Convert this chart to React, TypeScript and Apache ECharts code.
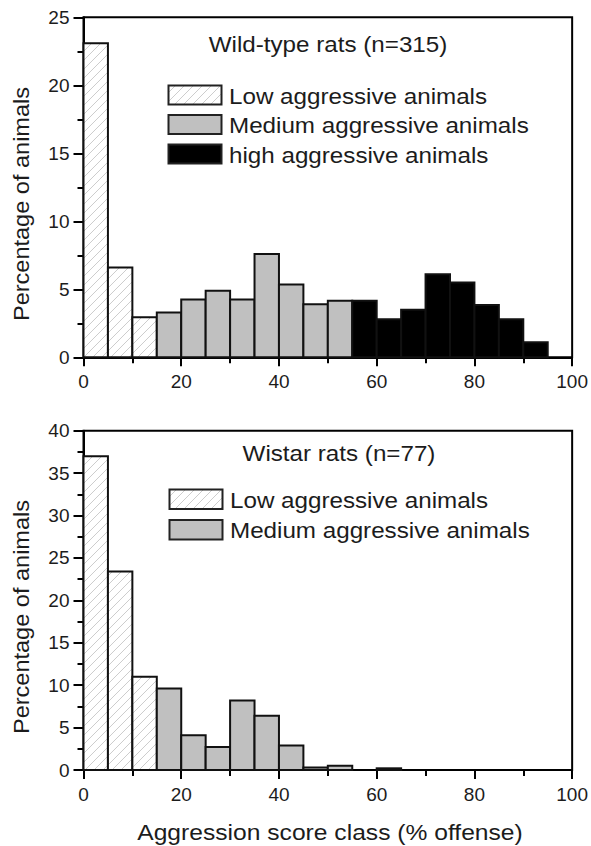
import React, { useEffect, useRef } from "react";
import * as echarts from "echarts";

// ---- data (bin width 5, % of animals) ----
const binWidth = 5;
const wildLowStart = 0;
const wildLow = [23.1, 6.6, 2.95];
const wildMediumStart = 15;
const wildMedium = [3.3, 4.25, 4.9, 4.25, 7.6, 5.35, 3.9, 4.15];
const wildHighStart = 55;
const wildHigh = [4.15, 2.8, 3.5, 6.1, 5.5, 3.85, 2.8, 1.1];

const wistarLowStart = 0;
const wistarLow = [37.0, 23.4, 11.0];
const wistarMediumStart = 15;
const wistarMedium = [9.6, 4.1, 2.7, 8.2, 6.4, 2.9, 0.3, 0.5, 0, 0.2];

const xTicks = { min: 0, max: 100, interval: 20 };
const topY = { min: 0, max: 25, interval: 5 };
const bottomY = { min: 0, max: 40, interval: 5 };

const topTitle = "Wild-type rats (n=315)";
const bottomTitle = "Wistar rats (n=77)";
const legendLow = "Low aggressive animals";
const legendMedium = "Medium aggressive animals";
const legendHigh = "high aggressive animals";
const yName = "Percentage of animals";
const xName = "Aggression score class (% offense)";

// ---- styles ----
const FONT = "'Liberation Sans', Arial, Helvetica, sans-serif";
const TEXT = "#1c1c1c";
const GRAY = "#c0c0c0";
const HATCH = "#cdcdcd";
const OUTLINE = "#111";

function toBins(start: number, vals: number[]) {
  return vals.map((v, i) => [start + i * binWidth, start + (i + 1) * binWidth, v]);
}

function hatchSegments(x: number, y: number, w: number, h: number, s: number) {
  const segs: number[][] = [];
  const x1 = x + w;
  const y1 = y + h;
  const cStart = Math.ceil((x + y) / s) * s;
  for (let c = cStart; c <= x1 + y1; c += s) {
    const lo = Math.max(y, c - x1);
    const hi = Math.min(y1, c - x);
    if (hi - lo > 0.5) segs.push([c - lo, lo, c - hi, hi]);
  }
  return segs;
}

function makeRender(kind: "hatch" | "gray" | "black") {
  return (params: any, api: any) => {
    const v = api.value(2);
    if (!(v > 0)) return null;
    const tl = api.coord([api.value(0), v]);
    const br = api.coord([api.value(1), 0]);
    const x = tl[0];
    const y = tl[1];
    const w = br[0] - tl[0];
    const h = br[1] - tl[1];
    const children: any[] = [];
    if (kind === "hatch") {
      children.push({ type: "rect", shape: { x, y, width: w, height: h }, style: { fill: "#fff" } });
      hatchSegments(x, y, w, h, 9).forEach((sg) =>
        children.push({
          type: "line",
          shape: { x1: sg[0], y1: sg[1], x2: sg[2], y2: sg[3] },
          style: { stroke: HATCH, lineWidth: 1 },
        })
      );
      children.push({
        type: "rect",
        shape: { x, y, width: w, height: h },
        style: { fill: "none", stroke: OUTLINE, lineWidth: 2 },
      });
    } else {
      children.push({
        type: "rect",
        shape: { x, y, width: w, height: h },
        style: { fill: kind === "gray" ? GRAY : "#000", stroke: OUTLINE, lineWidth: 2 },
      });
    }
    return { type: "group", children };
  };
}

function legendSwatch(kind: "hatch" | "gray" | "black", x: number, y: number, w: number, h: number) {
  const children: any[] = [];
  if (kind === "hatch") {
    children.push({ type: "rect", shape: { x, y, width: w, height: h }, style: { fill: "#fff" } });
    hatchSegments(x, y, w, h, 9).forEach((sg) =>
      children.push({
        type: "line",
        shape: { x1: sg[0], y1: sg[1], x2: sg[2], y2: sg[3] },
        style: { stroke: HATCH, lineWidth: 1 },
      })
    );
    children.push({
      type: "rect",
      shape: { x, y, width: w, height: h },
      style: { fill: "none", stroke: "#222", lineWidth: 2 },
    });
  } else {
    children.push({
      type: "rect",
      shape: { x, y, width: w, height: h },
      style: { fill: kind === "gray" ? GRAY : "#000", stroke: "#222", lineWidth: 2 },
    });
  }
  return { type: "group", children };
}

function label(text: string, x: number, y: number, align: string, scaleX: number, rotation = 0) {
  return {
    type: "text",
    x,
    y,
    rotation,
    scaleX,
    style: {
      text,
      fontFamily: FONT,
      fontSize: 22,
      fill: TEXT,
      textAlign: align,
      textVerticalAlign: "middle",
    },
  };
}

function xAxisCfg(gridIndex: number) {
  return {
    type: "value",
    gridIndex,
    min: xTicks.min,
    max: xTicks.max,
    interval: xTicks.interval,
    axisLine: { show: true, onZero: false, lineStyle: { color: "#000", width: 2 } },
    axisTick: { show: true, inside: false, length: 9, lineStyle: { color: "#000", width: 2 } },
    minorTick: { show: true, splitNumber: 2, length: 6, lineStyle: { color: "#000", width: 2 } },
    splitLine: { show: false },
    axisLabel: { fontFamily: FONT, fontSize: 19, color: TEXT, margin: 15 },
  };
}

function yAxisCfg(gridIndex: number, r: { min: number; max: number; interval: number }) {
  return {
    type: "value",
    gridIndex,
    min: r.min,
    max: r.max,
    interval: r.interval,
    axisLine: { show: true, lineStyle: { color: "#000", width: 2 } },
    axisTick: { show: true, inside: false, length: 10, lineStyle: { color: "#000", width: 2 } },
    minorTick: { show: true, splitNumber: 2, length: 6, lineStyle: { color: "#000", width: 2 } },
    splitLine: { show: false },
    axisLabel: { fontFamily: FONT, fontSize: 19, color: TEXT, margin: 14 },
  };
}

function series(name: string, kind: "hatch" | "gray" | "black", idx: number, data: number[][]) {
  return {
    type: "custom",
    name,
    xAxisIndex: idx,
    yAxisIndex: idx,
    renderItem: makeRender(kind),
    encode: { x: [0, 1], y: 2 },
    data,
    silent: true,
  };
}

export default function App() {
  const ref = useRef<HTMLDivElement>(null);
  useEffect(() => {
    if (!ref.current) return;
    const chart = echarts.init(ref.current, null, { renderer: "svg" });
    const option: any = {
      animation: false,
      backgroundColor: "#fff",
      grid: [
        { left: 83.5, top: 17.3, width: 489, height: 340, show: true, borderColor: "#000", borderWidth: 2, backgroundColor: "transparent" },
        { left: 83.5, top: 430.7, width: 489, height: 339.3, show: true, borderColor: "#000", borderWidth: 2, backgroundColor: "transparent" },
      ],
      xAxis: [xAxisCfg(0), xAxisCfg(1)],
      yAxis: [yAxisCfg(0, topY), yAxisCfg(1, bottomY)],
      series: [
        series(legendLow, "hatch", 0, toBins(wildLowStart, wildLow)),
        series(legendMedium, "gray", 0, toBins(wildMediumStart, wildMedium)),
        series(legendHigh, "black", 0, toBins(wildHighStart, wildHigh)),
        series(legendLow, "hatch", 1, toBins(wistarLowStart, wistarLow)),
        series(legendMedium, "gray", 1, toBins(wistarMediumStart, wistarMedium)),
      ],
      graphic: [
        label(topTitle, 328, 44, "center", 1.1),
        legendSwatch("hatch", 168.5, 85.5, 53, 19),
        legendSwatch("gray", 168.5, 115, 53, 19),
        legendSwatch("black", 168.5, 144.5, 53, 19),
        label(legendLow, 229, 96.3, "left", 1.1),
        label(legendMedium, 229, 125.5, "left", 1.1),
        label(legendHigh, 229, 155, "left", 1.1),
        label(yName, 21, 204, "center", 1.07, Math.PI / 2),

        label(bottomTitle, 339, 453, "center", 1.1),
        legendSwatch("hatch", 169.5, 489.5, 53, 19.5),
        legendSwatch("gray", 169.5, 520, 53, 19.5),
        label(legendLow, 230, 500.6, "left", 1.1),
        label(legendMedium, 230, 530.6, "left", 1.1),
        label(yName, 21, 617, "center", 1.07, Math.PI / 2),

        label(xName, 330, 832, "center", 1.12),
      ],
    };
    chart.setOption(option);
    return () => chart.dispose();
  }, []);
  return (
    <div
      ref={ref}
      style={{ position: "fixed", left: 0, top: 0, width: 591, height: 846, background: "#fff" }}
    />
  );
}
